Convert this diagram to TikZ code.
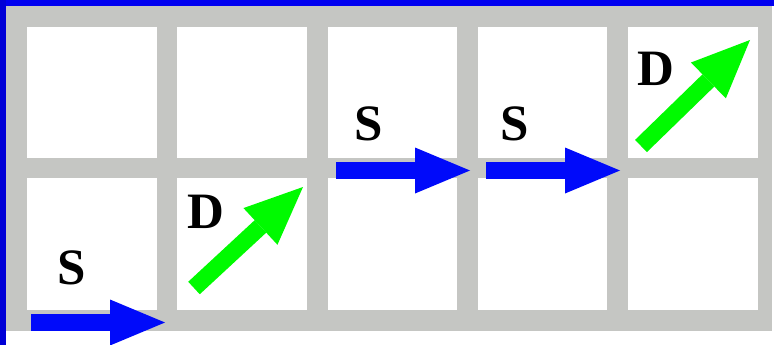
\documentclass[tikz,border=0pt]{standalone}
\usepackage{fontspec}
\setmainfont{Liberation Serif}
\usetikzlibrary{arrows.meta}
\definecolor{gridgray}{RGB}{197,198,195}
\definecolor{bordertop}{RGB}{0,0,240}
\definecolor{borderleft}{RGB}{0,0,215}
\definecolor{arrowblue}{RGB}{0,10,250}
\definecolor{arrowgreen}{RGB}{0,250,0}
\begin{document}
\begin{tikzpicture}[x=1pt,y=-1pt,
  cell/.style={fill=white},
  lbl/.style={font=\fontsize{51}{51}\selectfont\bfseries, inner sep=0pt},
  bluearrow/.style={draw=arrowblue, line width=17pt, -{Triangle[length=55pt,width=46pt,line width=0pt]}},
  greenarrow/.style={draw=arrowgreen, line width=17pt, -{Triangle[length=58pt,width=50pt,line width=0pt]}}]
\useasboundingbox (0,0) rectangle (774,345);
\fill[white] (0,0) rectangle (774,345);
\fill[gridgray] (6,6) rectangle (772,331);
\fill[bordertop] (0,0) rectangle (774,6);
\fill[borderleft] (0,0) rectangle (6,345);
\foreach \c in {0,...,4} {
  \foreach \ya/\yb in {27/158, 178/310} {
    \path[cell] ({27+150.25*\c},\ya) rectangle ({156.5+150.25*\c},\yb);
  }
}
% labels
\node[lbl] (s1) at (72,268) {S};
\node[lbl] (s2) at (369,124) {S};
\node[lbl] (s3) at (515,124) {S};
\node[lbl] (d1) at (206,212) {D};
\node[lbl] (d2) at (656,69) {D};
% arrows
\coordinate (b1s) at (31,322.5);  \coordinate (b1e) at (165,322.5);
\coordinate (b2s) at (336,170.5); \coordinate (b2e) at (470,170.5);
\coordinate (b3s) at (486,170.5); \coordinate (b3e) at (620,170.5);
\coordinate (g1s) at (194,288);   \coordinate (g1e) at (303,187);
\coordinate (g2s) at (641,146);   \coordinate (g2e) at (750,40);
\draw[bluearrow] (b1s) -- (b1e);
\draw[bluearrow] (b2s) -- (b2e);
\draw[bluearrow] (b3s) -- (b3e);
\draw[greenarrow] (g1s) -- (g1e);
\draw[greenarrow] (g2s) -- (g2e);
\end{tikzpicture}
\end{document}
